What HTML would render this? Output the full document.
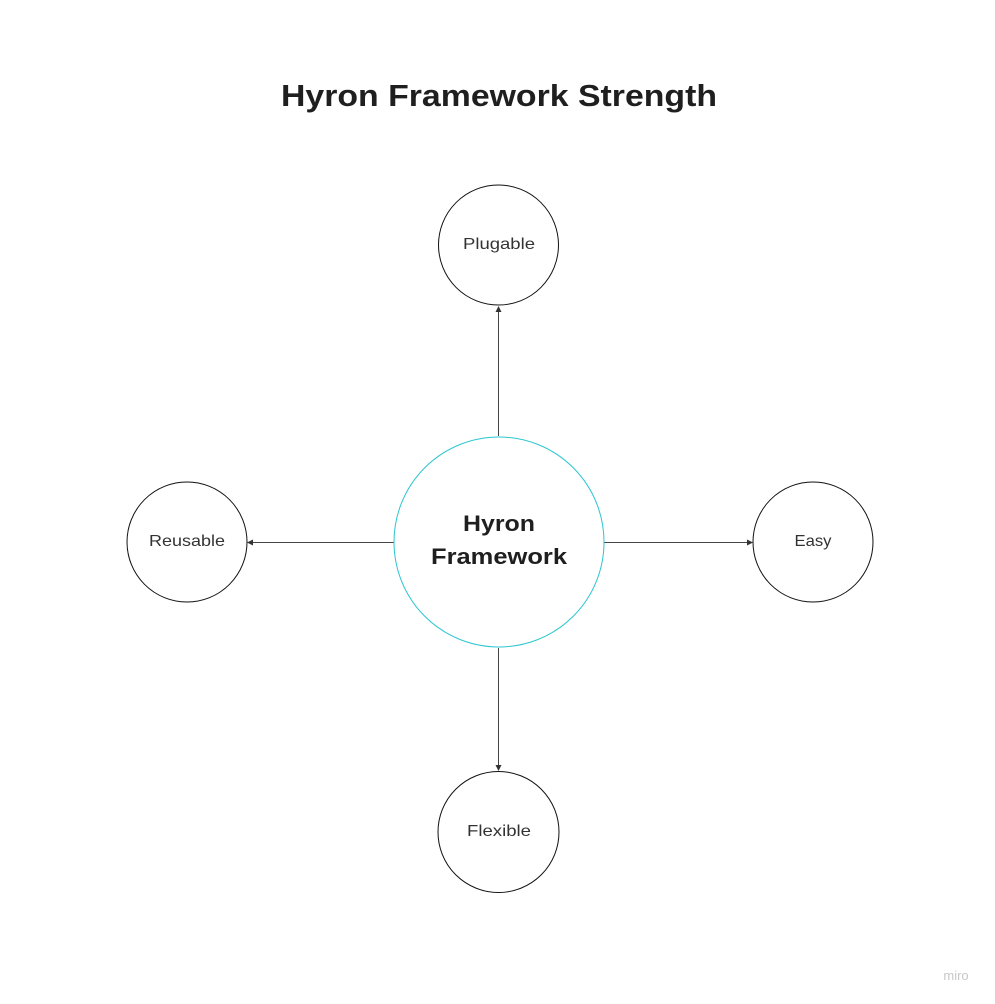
<!DOCTYPE html>
<html><head><meta charset="utf-8"><style>
html,body{margin:0;padding:0;background:#fff;}
svg{display:block;}
text{font-family:"Liberation Sans",sans-serif;}
</style></head><body>
<svg width="995" height="1004" viewBox="0 0 995 1004" xmlns="http://www.w3.org/2000/svg">
<defs>
<marker id="a" markerWidth="6" markerHeight="6" refX="5" refY="3" orient="auto" markerUnits="userSpaceOnUse">
<path d="M0,0 L6,3 L0,6 Z" fill="#333"/>
</marker>
</defs>
<rect width="995" height="1004" fill="#fff"/>
<text x="499" y="106" text-anchor="middle" font-size="31" font-weight="bold" fill="#1f1f1f" textLength="436" lengthAdjust="spacingAndGlyphs">Hyron Framework Strength</text>
<g stroke="#444" stroke-width="1" fill="none">
<line x1="498.5" y1="436" x2="498.5" y2="307" marker-end="url(#a)"/>
<line x1="394" y1="542.5" x2="248" y2="542.5" marker-end="url(#a)"/>
<line x1="604" y1="542.5" x2="752" y2="542.5" marker-end="url(#a)"/>
<line x1="498.5" y1="648" x2="498.5" y2="770" marker-end="url(#a)"/>
</g>
<circle cx="499" cy="542" r="105" fill="#fff" stroke="#2bc6cf" stroke-width="1"/>
<circle cx="498.5" cy="245" r="60" fill="#fff" stroke="#111" stroke-width="1"/>
<circle cx="187" cy="542" r="60" fill="#fff" stroke="#111" stroke-width="1"/>
<circle cx="813" cy="542" r="60" fill="#fff" stroke="#111" stroke-width="1"/>
<circle cx="498.5" cy="832" r="60.5" fill="#fff" stroke="#111" stroke-width="1"/>
<text x="499" y="531" text-anchor="middle" font-size="22" font-weight="bold" fill="#1f1f1f" textLength="72" lengthAdjust="spacingAndGlyphs">Hyron</text>
<text x="499" y="564" text-anchor="middle" font-size="22" font-weight="bold" fill="#1f1f1f" textLength="136" lengthAdjust="spacingAndGlyphs">Framework</text>
<g font-size="16" fill="#333" text-anchor="middle">
<text x="499" y="249" textLength="72" lengthAdjust="spacingAndGlyphs">Plugable</text>
<text x="187" y="546" textLength="76" lengthAdjust="spacingAndGlyphs">Reusable</text>
<text x="813" y="546" textLength="37" lengthAdjust="spacingAndGlyphs">Easy</text>
<text x="499" y="836" textLength="64" lengthAdjust="spacingAndGlyphs">Flexible</text>
</g>
<text x="956" y="980" text-anchor="middle" font-size="13" fill="#c8c8c8">miro</text>
</svg>
</body></html>
